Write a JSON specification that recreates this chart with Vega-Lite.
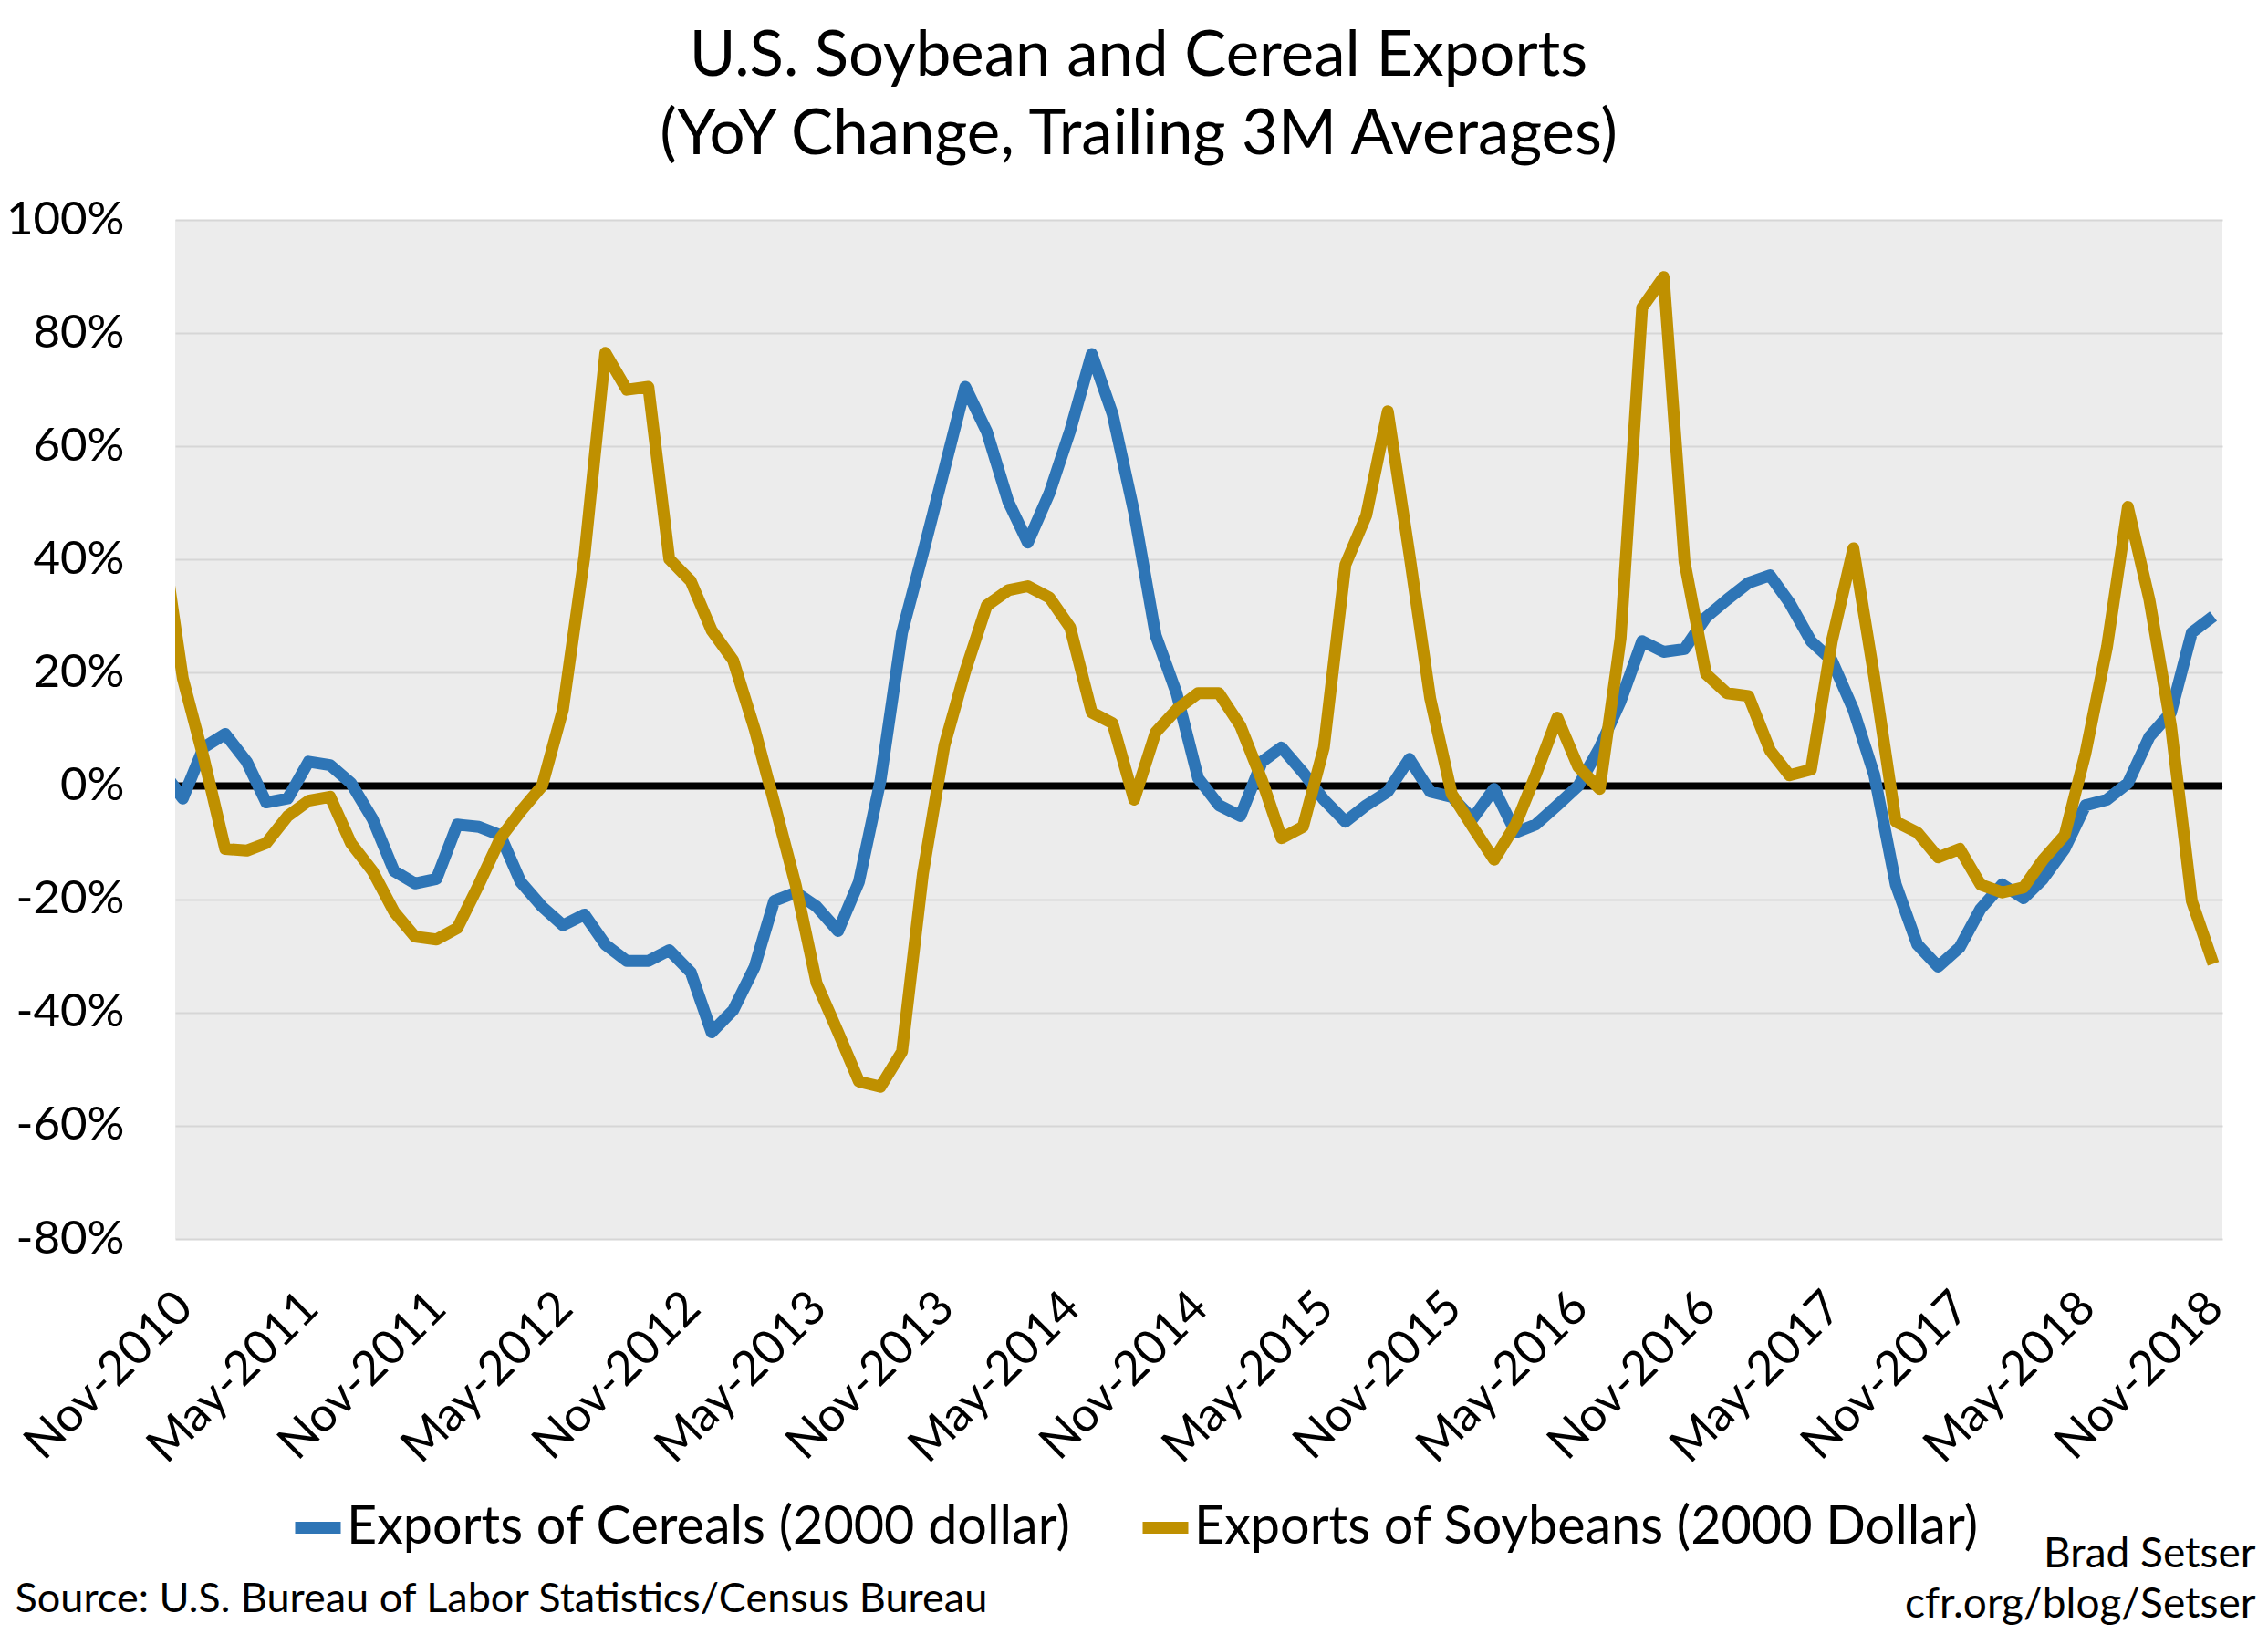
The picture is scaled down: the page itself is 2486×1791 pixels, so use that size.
{
  "$schema": "https://vega.github.io/schema/vega-lite/v6.json",
  "width": 2244,
  "height": 1117,
  "autosize": {"type": "none"},
  "padding": {"left": 192, "top": 241, "right": 50, "bottom": 433},
  "background": "white",
  "config": {
    "font": "Lato",
    "view": {"stroke": null, "fill": "#ececec"}
  },
  "title": {
    "text": ["U.S. Soybean and Cereal Exports", "(YoY Change, Trailing 3M Averages)"],
    "fontSize": 69,
    "fontWeight": "normal",
    "color": "#000000",
    "lineHeight": 86,
    "anchor": "middle",
    "dx": -66,
    "offset": 32
  },
  "data": {
    "values": [
      {"date": "2010-10-01", "cereals": 3, "soybeans": 45},
      {"date": "2010-11-01", "cereals": -2.2, "soybeans": 19},
      {"date": "2010-12-01", "cereals": 6.8, "soybeans": 5},
      {"date": "2011-01-01", "cereals": 9.2, "soybeans": -11.1},
      {"date": "2011-02-01", "cereals": 4.3, "soybeans": -11.4},
      {"date": "2011-03-01", "cereals": -2.9, "soybeans": -10.1},
      {"date": "2011-04-01", "cereals": -2.2, "soybeans": -5.3},
      {"date": "2011-05-01", "cereals": 4.3, "soybeans": -2.6},
      {"date": "2011-06-01", "cereals": 3.7, "soybeans": -1.9},
      {"date": "2011-07-01", "cereals": 0.5, "soybeans": -10.1},
      {"date": "2011-08-01", "cereals": -5.8, "soybeans": -15.0},
      {"date": "2011-09-01", "cereals": -15.0, "soybeans": -22.2},
      {"date": "2011-10-01", "cereals": -17.2, "soybeans": -26.6},
      {"date": "2011-11-01", "cereals": -16.4, "soybeans": -27.1},
      {"date": "2011-12-01", "cereals": -6.8, "soybeans": -25.1},
      {"date": "2012-01-01", "cereals": -7.2, "soybeans": -17.4},
      {"date": "2012-02-01", "cereals": -8.7, "soybeans": -9.2},
      {"date": "2012-03-01", "cereals": -16.9, "soybeans": -4.5},
      {"date": "2012-04-01", "cereals": -21.3, "soybeans": 0},
      {"date": "2012-05-01", "cereals": -24.6, "soybeans": 13.5},
      {"date": "2012-06-01", "cereals": -22.7, "soybeans": 40.6},
      {"date": "2012-07-01", "cereals": -28.0, "soybeans": 76.5},
      {"date": "2012-08-01", "cereals": -30.9, "soybeans": 70.0},
      {"date": "2012-09-01", "cereals": -30.9, "soybeans": 70.5},
      {"date": "2012-10-01", "cereals": -29.0, "soybeans": 40.1},
      {"date": "2012-11-01", "cereals": -32.9, "soybeans": 36.2},
      {"date": "2012-12-01", "cereals": -43.5, "soybeans": 27.5},
      {"date": "2013-01-01", "cereals": -39.6, "soybeans": 22.2},
      {"date": "2013-02-01", "cereals": -31.9, "soybeans": 10},
      {"date": "2013-03-01", "cereals": -20.3, "soybeans": -2.9},
      {"date": "2013-04-01", "cereals": -18.8, "soybeans": -17.5},
      {"date": "2013-05-01", "cereals": -21.3, "soybeans": -34.8},
      {"date": "2013-06-01", "cereals": -25.6, "soybeans": -43.5},
      {"date": "2013-07-01", "cereals": -16.9, "soybeans": -52.2},
      {"date": "2013-08-01", "cereals": 1.0, "soybeans": -53.1},
      {"date": "2013-09-01", "cereals": 27.1, "soybeans": -46.9},
      {"date": "2013-10-01", "cereals": 41.1, "soybeans": -15.5},
      {"date": "2013-11-01", "cereals": 56.0, "soybeans": 7.2},
      {"date": "2013-12-01", "cereals": 70.5, "soybeans": 20.3},
      {"date": "2014-01-01", "cereals": 62.6, "soybeans": 31.9},
      {"date": "2014-02-01", "cereals": 50.2, "soybeans": 34.6},
      {"date": "2014-03-01", "cereals": 43.0, "soybeans": 35.3},
      {"date": "2014-04-01", "cereals": 51.7, "soybeans": 33.3},
      {"date": "2014-05-01", "cereals": 62.8, "soybeans": 28.0},
      {"date": "2014-06-01", "cereals": 76.3, "soybeans": 13.0},
      {"date": "2014-07-01", "cereals": 65.7, "soybeans": 11.1},
      {"date": "2014-08-01", "cereals": 48.3, "soybeans": -2.4},
      {"date": "2014-09-01", "cereals": 26.6, "soybeans": 9.5},
      {"date": "2014-10-01", "cereals": 16.4, "soybeans": 13.5},
      {"date": "2014-11-01", "cereals": 1.4, "soybeans": 16.4},
      {"date": "2014-12-01", "cereals": -3.4, "soybeans": 16.4},
      {"date": "2015-01-01", "cereals": -5.3, "soybeans": 10.6},
      {"date": "2015-02-01", "cereals": 4.3, "soybeans": 1.0},
      {"date": "2015-03-01", "cereals": 6.8, "soybeans": -9.2},
      {"date": "2015-04-01", "cereals": 2.4, "soybeans": -7.2},
      {"date": "2015-05-01", "cereals": -2.4, "soybeans": 6.8},
      {"date": "2015-06-01", "cereals": -6.3, "soybeans": 39.1},
      {"date": "2015-07-01", "cereals": -3.4, "soybeans": 47.8},
      {"date": "2015-08-01", "cereals": -1.0, "soybeans": 66.2},
      {"date": "2015-09-01", "cereals": 4.8, "soybeans": 41.0},
      {"date": "2015-10-01", "cereals": -1.0, "soybeans": 15.5},
      {"date": "2015-11-01", "cereals": -1.9, "soybeans": -1.4},
      {"date": "2015-12-01", "cereals": -5.8, "soybeans": -7.2},
      {"date": "2016-01-01", "cereals": -0.5, "soybeans": -13.0},
      {"date": "2016-02-01", "cereals": -8.2, "soybeans": -6.8},
      {"date": "2016-03-01", "cereals": -6.8, "soybeans": 2.0},
      {"date": "2016-04-01", "cereals": -3.4, "soybeans": 12.1},
      {"date": "2016-05-01", "cereals": 0, "soybeans": 3.4},
      {"date": "2016-06-01", "cereals": 6.8, "soybeans": -0.5},
      {"date": "2016-07-01", "cereals": 15.0, "soybeans": 26.1},
      {"date": "2016-08-01", "cereals": 25.6, "soybeans": 84.5},
      {"date": "2016-09-01", "cereals": 23.7, "soybeans": 89.9},
      {"date": "2016-10-01", "cereals": 24.2, "soybeans": 39.6},
      {"date": "2016-11-01", "cereals": 29.8, "soybeans": 19.8},
      {"date": "2016-12-01", "cereals": 32.9, "soybeans": 16.4},
      {"date": "2017-01-01", "cereals": 35.9, "soybeans": 15.9},
      {"date": "2017-02-01", "cereals": 37.2, "soybeans": 6.3},
      {"date": "2017-03-01", "cereals": 32.4, "soybeans": 1.9},
      {"date": "2017-04-01", "cereals": 25.6, "soybeans": 2.9},
      {"date": "2017-05-01", "cereals": 22.2, "soybeans": 25.6},
      {"date": "2017-06-01", "cereals": 13.5, "soybeans": 42.0},
      {"date": "2017-07-01", "cereals": 2.0, "soybeans": 19.3},
      {"date": "2017-08-01", "cereals": -17.4, "soybeans": -6.3},
      {"date": "2017-09-01", "cereals": -28.0, "soybeans": -8.2},
      {"date": "2017-10-01", "cereals": -31.9, "soybeans": -12.6},
      {"date": "2017-11-01", "cereals": -28.5, "soybeans": -11.1},
      {"date": "2017-12-01", "cereals": -21.7, "soybeans": -17.4},
      {"date": "2018-01-01", "cereals": -17.4, "soybeans": -18.8},
      {"date": "2018-02-01", "cereals": -19.8, "soybeans": -17.9},
      {"date": "2018-03-01", "cereals": -16.4, "soybeans": -13.0},
      {"date": "2018-04-01", "cereals": -11.1, "soybeans": -8.7},
      {"date": "2018-05-01", "cereals": -3.4, "soybeans": 5.8},
      {"date": "2018-06-01", "cereals": -2.4, "soybeans": 24.6},
      {"date": "2018-07-01", "cereals": 0.5, "soybeans": 49.3},
      {"date": "2018-08-01", "cereals": 8.7, "soybeans": 32.9},
      {"date": "2018-09-01", "cereals": 13.0, "soybeans": 10.6},
      {"date": "2018-10-01", "cereals": 27.1, "soybeans": -20.3},
      {"date": "2018-11-01", "cereals": 30.0, "soybeans": -31.4}
    ]
  },
  "layer": [
    {
      "data": {"values": [{"zero": 0}]},
      "mark": {"type": "rule", "color": "#000000", "strokeWidth": 8},
      "encoding": {
        "y": {"field": "zero", "type": "quantitative", "scale": {"domain": [-80, 100], "nice": false}}
      }
    },
    {
      "transform": [{"fold": ["cereals", "soybeans"], "as": ["series", "value"]}],
      "mark": {"type": "line", "strokeWidth": 13, "clip": true, "strokeJoin": "round"},
      "encoding": {
        "x": {
          "field": "date",
          "type": "temporal",
          "scale": {
            "type": "utc",
            "domain": [
              {"year": 2010, "month": 10, "date": 21, "utc": true},
              {"year": 2018, "month": 11, "date": 14, "utc": true}
            ]
          },
          "axis": {
            "values": [
              {"year": 2010, "month": 11, "date": 1, "utc": true},
              {"year": 2011, "month": 5, "date": 1, "utc": true},
              {"year": 2011, "month": 11, "date": 1, "utc": true},
              {"year": 2012, "month": 5, "date": 1, "utc": true},
              {"year": 2012, "month": 11, "date": 1, "utc": true},
              {"year": 2013, "month": 5, "date": 1, "utc": true},
              {"year": 2013, "month": 11, "date": 1, "utc": true},
              {"year": 2014, "month": 5, "date": 1, "utc": true},
              {"year": 2014, "month": 11, "date": 1, "utc": true},
              {"year": 2015, "month": 5, "date": 1, "utc": true},
              {"year": 2015, "month": 11, "date": 1, "utc": true},
              {"year": 2016, "month": 5, "date": 1, "utc": true},
              {"year": 2016, "month": 11, "date": 1, "utc": true},
              {"year": 2017, "month": 5, "date": 1, "utc": true},
              {"year": 2017, "month": 11, "date": 1, "utc": true},
              {"year": 2018, "month": 5, "date": 1, "utc": true},
              {"year": 2018, "month": 11, "date": 1, "utc": true}
            ],
            "labelExpr": "utcFormat(datum.value, '%b-%Y')",
            "labelAngle": -45,
            "labelFontSize": 52,
            "labelColor": "#000000",
            "labelPadding": 49,
            "labelOffset": -16,
            "labelLimit": 1000,
            "labelOverlap": false,
            "labelFlush": false,
            "ticks": false,
            "domain": false,
            "grid": false,
            "title": "Source: U.S. Bureau of Labor Statistics/Census Bureau",
            "titleFontSize": 45,
            "titleFontWeight": "normal",
            "titleColor": "#000000",
            "titleAngle": 0,
            "titleAlign": "left",
            "titleBaseline": "alphabetic",
            "titleX": -176,
            "titleY": 408
          }
        },
        "y": {
          "field": "value",
          "type": "quantitative",
          "scale": {"domain": [-80, 100], "nice": false},
          "axis": {
            "values": [-80, -60, -40, -20, 0, 20, 40, 60, 80, 100],
            "labelExpr": "datum.value + '%'",
            "labelFontSize": 51,
            "labelColor": "#000000",
            "labelPadding": 56,
            "ticks": false,
            "domain": false,
            "grid": true,
            "gridColor": "#d6d6d6",
            "gridWidth": 2,
            "title": ["Brad Setser", "cfr.org/blog/Setser"],
            "titleFontSize": 46,
            "titleFontWeight": "normal",
            "titleColor": "#000000",
            "titleAngle": 0,
            "titleAlign": "right",
            "titleBaseline": "alphabetic",
            "titleLineHeight": 55,
            "titleX": 2280,
            "titleY": 1476
          }
        },
        "color": {
          "field": "series",
          "type": "nominal",
          "scale": {"domain": ["cereals", "soybeans"], "range": ["#2E75B6", "#BF9000"]},
          "legend": {
            "orient": "none",
            "legendX": 125,
            "legendY": 1402,
            "direction": "horizontal",
            "title": null,
            "labelExpr": "datum.label == 'cereals' ? 'Exports of Cereals (2000 dollar)' : 'Exports of Soybeans (2000 Dollar)'",
            "labelFontSize": 57.5,
            "labelColor": "#000000",
            "labelLimit": 2000,
            "labelOffset": 0,
            "symbolType": "stroke",
            "symbolStrokeWidth": 13,
            "symbolSize": 2500,
            "columnPadding": 52
          }
        }
      }
    }
  ]
}
